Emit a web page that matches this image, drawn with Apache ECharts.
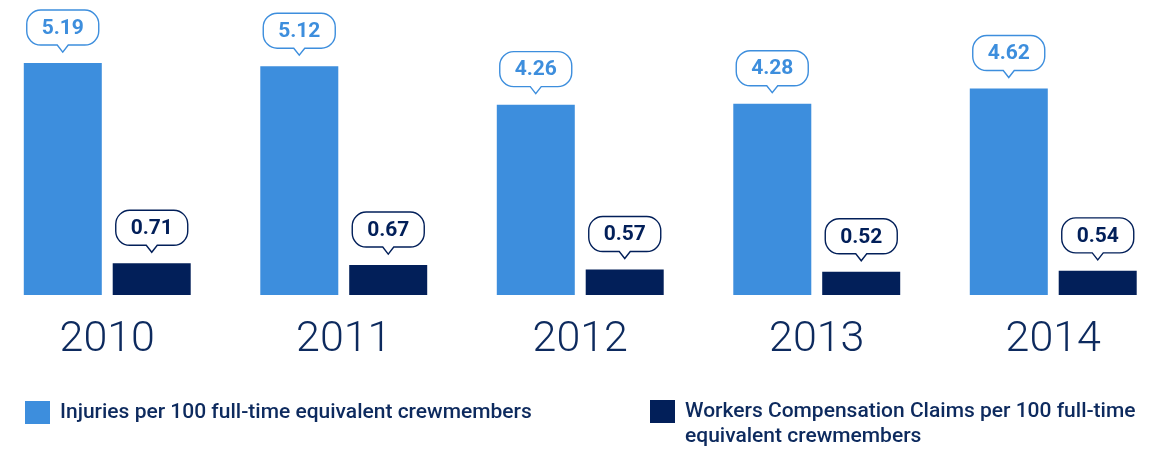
<!DOCTYPE html>
<html>
<head>
<meta charset="utf-8">
<script src="https://cdn.jsdelivr.net/npm/echarts@6/dist/echarts.min.js"></script>
<style>
  html, body { margin: 0; padding: 0; background: #fff; }
  #chart { width: 1150px; height: 450px; }
</style>
</head>
<body>
<div id="chart"></div>
<script>
const years = ["2010", "2011", "2012", "2013", "2014"];
const injuries = [5.19, 5.12, 4.26, 4.28, 4.62];
const claims = [0.71, 0.67, 0.57, 0.52, 0.54];
const injuriesName = "Injuries per 100 full-time equivalent crewmembers";
const claimsName = "Workers Compensation Claims per 100 full-time equivalent crewmembers";

const LIGHT = "#3d8edd";
const DARK = "#021f59";
const NAVY = "#0d2a5e";

// callout shape: rounded box with a little tail pointing down at (cx, tipY)
function bubblePath(cx, tipY) {
  const w = 72, h = 35, r = 14, tw = 5.5, th = 7;
  const x0 = cx - w / 2, x1 = cx + w / 2;
  const y1 = tipY - th, y0 = y1 - h;
  const k = 0.5523 * r;
  return [
    "M", x0 + r, y0,
    "L", x1 - r, y0,
    "C", x1 - r + k, y0, x1, y0 + r - k, x1, y0 + r,
    "L", x1, y1 - r,
    "C", x1, y1 - r + k, x1 - r + k, y1, x1 - r, y1,
    "L", cx + tw, y1,
    "L", cx, tipY,
    "L", cx - tw, y1,
    "L", x0 + r, y1,
    "C", x0 + r - k, y1, x0, y1 - r + k, x0, y1 - r,
    "L", x0, y0 + r,
    "C", x0, y0 + r - k, x0 + r - k, y0, x0 + r, y0,
    "Z"
  ].join(" ");
}

function makeBubble(shift, color) {
  return function (params, api) {
    const pt = api.coord([api.value(0), api.value(1)]);
    const cx = pt[0] + shift;
    const tipY = pt[1] - 11;
    return {
      type: "group",
      children: [
        {
          type: "path",
          shape: { pathData: bubblePath(cx, tipY) },
          style: { fill: "#fff", stroke: color, lineWidth: 1.4 }
        },
        {
          type: "text",
          style: {
            text: api.value(1).toFixed(2),
            x: cx,
            y: tipY - 7 - 17.5 + 1,
            align: "center",
            verticalAlign: "middle",
            fill: color,
            font: "bold 21px Roboto, sans-serif"
          }
        }
      ]
    };
  };
}

const chart = echarts.init(document.getElementById("chart"));
const legendText = {
  color: NAVY,
  fontFamily: "Roboto",
  fontWeight: 500,
  fontSize: 21,
  lineHeight: 25,
  padding: [0, 0, 0, 5]
};

chart.setOption({
  animation: false,
  grid: { left: -11, width: 1182.5, top: 9, bottom: 155, outerBoundsMode: "none", containLabel: false },
  xAxis: {
    type: "category",
    data: years,
    axisLine: { show: false },
    axisTick: { show: false },
    axisLabel: {
      color: NAVY,
      fontFamily: "Roboto, sans-serif",
      fontWeight: 300,
      fontSize: 43,
      lineHeight: 43,
      margin: 24
    }
  },
  yAxis: {
    type: "value",
    min: 0,
    max: 6.4,
    show: false,
    splitLine: { show: false }
  },
  legend: [
    {
      left: 25,
      top: 400,
      padding: 0,
      icon: "rect",
      itemWidth: 25,
      itemHeight: 23,
      data: [injuriesName],
      textStyle: legendText
    },
    {
      left: 650,
      top: 374,
      padding: 0,
      icon: "rect",
      itemWidth: 25,
      itemHeight: 23,
      data: [claimsName],
      // leading empty line keeps the first text line level with the swatch
      formatter: function () {
        return "\nWorkers Compensation Claims per 100 full-time\nequivalent crewmembers";
      },
      textStyle: legendText
    }
  ],
  series: [
    {
      name: injuriesName,
      type: "bar",
      barWidth: 78,
      barGap: "14%",
      itemStyle: { color: LIGHT },
      data: injuries
    },
    {
      name: claimsName,
      type: "bar",
      barWidth: 78,
      itemStyle: { color: DARK },
      data: claims
    },
    {
      type: "custom",
      renderItem: makeBubble(-44.5, LIGHT),
      encode: { x: 0, y: 1 },
      data: injuries.map((v, i) => [i, v]),
      z: 5
    },
    {
      type: "custom",
      renderItem: makeBubble(44.5, DARK),
      encode: { x: 0, y: 1 },
      data: claims.map((v, i) => [i, v]),
      z: 5
    }
  ]
});
</script>
</body>
</html>
